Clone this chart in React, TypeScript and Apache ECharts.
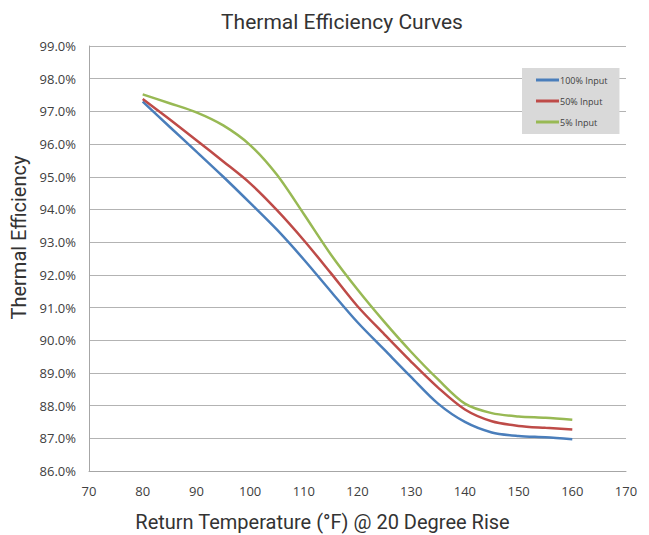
import React, { useEffect, useRef } from "react";
import * as echarts from "echarts";

const temperatures = [80, 85, 90, 95, 100, 105, 110, 115, 120, 125, 130, 135, 140, 145, 150, 155, 160];
const input100 = [97.3, 96.53, 95.77, 95.0, 94.2, 93.38, 92.47, 91.5, 90.55, 89.71, 88.87, 88.06, 87.5, 87.18, 87.07, 87.03, 86.97];
const input50 = [97.38, 96.76, 96.12, 95.47, 94.8, 93.98, 93.06, 92.06, 91.04, 90.18, 89.34, 88.55, 87.88, 87.52, 87.38, 87.32, 87.27];
const input5 = [97.52, 97.25, 96.97, 96.57, 95.97, 95.06, 93.86, 92.63, 91.55, 90.56, 89.64, 88.8, 88.06, 87.77, 87.67, 87.63, 87.57];
const seriesNames = ["100% Input", "50% Input", "5% Input"];
const seriesColors = ["#4a7ebb", "#be4b48", "#98b954"];

const pairs = (vals: number[]) => temperatures.map((t, i) => [t, vals[i]]);

export default function App() {
  const ref = useRef<HTMLDivElement>(null);
  useEffect(() => {
    if (!ref.current) return;
    const chart = echarts.init(ref.current, undefined, { renderer: "svg" });
    const font = "'Open Sans', 'Noto Sans', sans-serif";
    const data = [input100, input50, input5];
    chart.setOption({
      animation: false,
      backgroundColor: "#ffffff",
      title: {
        text: "Thermal Efficiency Curves",
        left: 337,
        textAlign: "center",
        top: 6,
        textStyle: { fontFamily: "Roboto, sans-serif", fontSize: 21, fontWeight: "normal", color: "#333333" },
      },
      legend: {
        orient: "vertical",
        left: 522,
        top: 68,
        padding: [6, 12, 6, 14],
        icon: "rect",
        itemWidth: 23,
        itemHeight: 3,
        itemGap: 9,
        backgroundColor: "#d9d9d9",
        textStyle: { fontFamily: font, fontSize: 9, color: "#404040", padding: [0, 0, 0, -4], lineHeight: 12 },
        data: seriesNames,
      },
      grid: { left: 89, right: 23, top: 46, bottom: 64, containLabel: false, outerBoundsMode: "none" },
      xAxis: {
        type: "value",
        min: 70,
        max: 170,
        interval: 10,
        name: "Return Temperature (°F) @ 20 Degree Rise",
        nameLocation: "middle",
        nameGap: 41,
        nameTextStyle: { fontFamily: "Roboto, sans-serif", fontSize: 20, color: "#333333", padding: [0, 70, 0, 0] },
        axisLine: { show: true, lineStyle: { color: "#a6a6a6", width: 1 } },
        axisTick: { show: false },
        axisLabel: { fontFamily: font, fontSize: 13, color: "#404040", margin: 13 },
        splitLine: { show: false },
      },
      yAxis: {
        type: "value",
        min: 86,
        max: 99,
        interval: 1,
        name: "Thermal Efficiency",
        nameLocation: "middle",
        nameGap: 56,
        nameTextStyle: { fontFamily: "Roboto, sans-serif", fontSize: 20, color: "#333333", padding: [0, 0, 0, 42] },
        axisLine: { show: true, lineStyle: { color: "#a6a6a6", width: 1 } },
        axisTick: { show: false },
        axisLabel: {
          fontFamily: font,
          fontSize: 13,
          color: "#404040",
          margin: 13,
          formatter: (v: number) => v.toFixed(1) + "%",
        },
        splitLine: { show: true, lineStyle: { color: "#b3b3b3", width: 1 } },
      },
      series: data.map((vals, i) => ({
        name: seriesNames[i],
        type: "line",
        data: pairs(vals),
        smooth: 0.3,
        symbol: "none",
        showSymbol: false,
        lineStyle: { color: seriesColors[i], width: 2.5 },
        itemStyle: { color: seriesColors[i] },
      })),
    });
    return () => chart.dispose();
  }, []);
  return (
    <div
      ref={ref}
      style={{ position: "fixed", left: 0, top: 0, width: 649, height: 535 }}
    />
  );
}
